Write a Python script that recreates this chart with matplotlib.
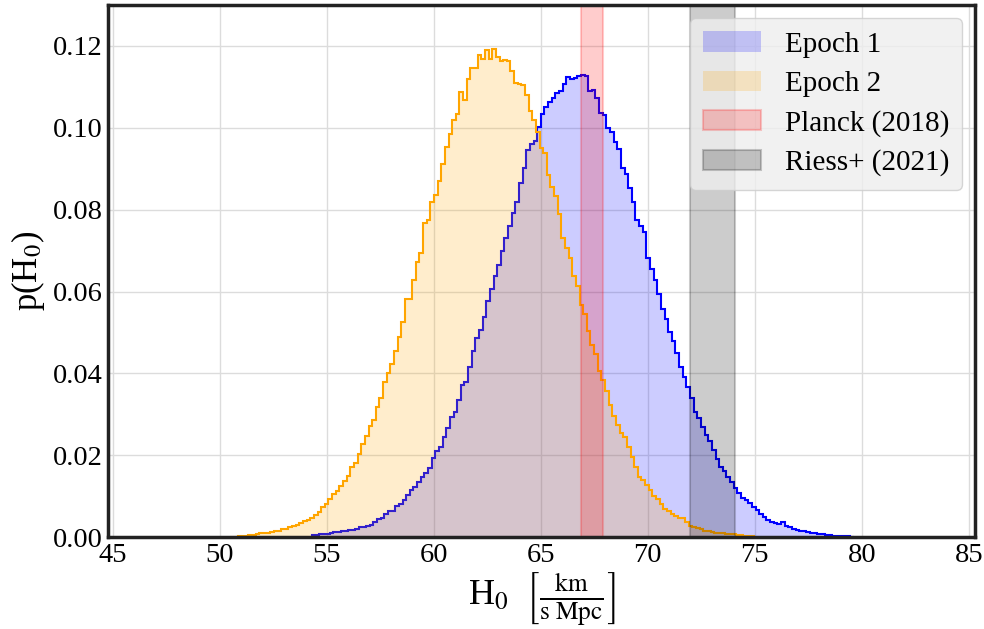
import numpy as np
import matplotlib
matplotlib.use("Agg")
import matplotlib.pyplot as plt

plt.rcParams['font.family'] = ['Liberation Serif', 'DejaVu Serif']
plt.rcParams['mathtext.fontset'] = 'stix'

# bin layout (start, width) for each epoch
bin_w = 0.17
start_1 = 54.3
start_2 = 50.5

# p(H0) per bin
epoch1 = [
    0.0005, 0.0006, 0.0007, 0.0008, 0.0008, 0.0010, 0.0013, 0.0013, 0.0015, 0.0016,
    0.0018, 0.0018, 0.0019, 0.0024, 0.0024, 0.0028, 0.0030, 0.0036, 0.0044, 0.0047,
    0.0057, 0.0063, 0.0063, 0.0077, 0.0080, 0.0091, 0.0104, 0.0115, 0.0122, 0.0134,
    0.0146, 0.0157, 0.0169, 0.0193, 0.0210, 0.0221, 0.0245, 0.0267, 0.0293, 0.0306,
    0.0335, 0.0371, 0.0378, 0.0416, 0.0455, 0.0486, 0.0507, 0.0537, 0.0576, 0.0606,
    0.0637, 0.0664, 0.0699, 0.0730, 0.0759, 0.0791, 0.0819, 0.0865, 0.0902, 0.0945,
    0.0961, 0.0967, 0.1002, 0.1033, 0.1050, 0.1062, 0.1072, 0.1084, 0.1091, 0.1107,
    0.1125, 0.1120, 0.1122, 0.1126, 0.1128, 0.1127, 0.1091, 0.1093, 0.1073, 0.1037,
    0.1031, 0.1000, 0.0990, 0.0965, 0.0949, 0.0902, 0.0888, 0.0854, 0.0819, 0.0774,
    0.0760, 0.0746, 0.0682, 0.0656, 0.0628, 0.0593, 0.0557, 0.0533, 0.0502, 0.0480,
    0.0449, 0.0416, 0.0392, 0.0366, 0.0340, 0.0305, 0.0290, 0.0270, 0.0250, 0.0235,
    0.0213, 0.0192, 0.0172, 0.0161, 0.0148, 0.0135, 0.0120, 0.0107, 0.0096, 0.0090,
    0.0083, 0.0074, 0.0066, 0.0056, 0.0050, 0.0043, 0.0037, 0.0035, 0.0032, 0.0036,
    0.0027, 0.0024, 0.0021, 0.0018, 0.0016, 0.0015, 0.0013, 0.0011, 0.0010, 0.0008,
    0.0007, 0.0006, 0.0005, 0.0004, 0.0003, 0.0003, 0.0002, 0.0002, 0.0001,
]

epoch2 = [
    0.0001, 0.0001, 0.0002, 0.0003, 0.0004, 0.0005, 0.0006, 0.0008, 0.0009, 0.0010,
    0.0011, 0.0012, 0.0014, 0.0016, 0.0019, 0.0020, 0.0024, 0.0027, 0.0030, 0.0034,
    0.0040, 0.0043, 0.0047, 0.0053, 0.0061, 0.0073, 0.0081, 0.0094, 0.0106, 0.0114,
    0.0124, 0.0138, 0.0150, 0.0172, 0.0180, 0.0203, 0.0228, 0.0246, 0.0272, 0.0287,
    0.0317, 0.0340, 0.0378, 0.0400, 0.0423, 0.0454, 0.0488, 0.0526, 0.0581, 0.0581,
    0.0628, 0.0672, 0.0695, 0.0767, 0.0776, 0.0820, 0.0837, 0.0870, 0.0912, 0.0954,
    0.0985, 0.1020, 0.1035, 0.1088, 0.1068, 0.1120, 0.1145, 0.1145, 0.1177, 0.1168,
    0.1189, 0.1169, 0.1193, 0.1174, 0.1163, 0.1165, 0.1163, 0.1140, 0.1109, 0.1107,
    0.1105, 0.1081, 0.1040, 0.1020, 0.0990, 0.0951, 0.0938, 0.0884, 0.0855, 0.0833,
    0.0789, 0.0732, 0.0707, 0.0683, 0.0638, 0.0614, 0.0566, 0.0545, 0.0504, 0.0470,
    0.0447, 0.0405, 0.0384, 0.0358, 0.0323, 0.0297, 0.0274, 0.0254, 0.0244, 0.0220,
    0.0197, 0.0171, 0.0146, 0.0140, 0.0128, 0.0115, 0.0101, 0.0093, 0.0080, 0.0069,
    0.0065, 0.0057, 0.0052, 0.0047, 0.0047, 0.0036, 0.0028, 0.0025, 0.0022, 0.0019,
    0.0016, 0.0014, 0.0012, 0.0011, 0.0010, 0.0009, 0.0008, 0.0007, 0.0007, 0.0006,
    0.0005, 0.0004, 0.0003, 0.0002,
]

planck = (66.9, 67.9)
riess = (72.0, 74.07)

edges1 = start_1 + bin_w * np.arange(len(epoch1) + 1)
edges2 = start_2 + bin_w * np.arange(len(epoch2) + 1)

fig = plt.figure(figsize=(9.84, 6.29), dpi=100)
ax = fig.add_axes([0.110, 0.146, 0.881, 0.846])

ax.grid(True, color='#dcdcdc', lw=1.0, zorder=0)
ax.set_axisbelow(True)

ax.stairs(epoch1, edges1, fill=True, color='blue', alpha=0.2, lw=0, label='Epoch 1')
ax.stairs(epoch1, edges1, color='blue', lw=1.5)
ax.stairs(epoch2, edges2, fill=True, color='orange', alpha=0.2, lw=0, label='Epoch 2')
ax.stairs(epoch2, edges2, color='orange', lw=1.5)

ax.axvspan(*planck, color='red', alpha=0.2, lw=1.5, label='Planck (2018)')
ax.axvspan(*riess, color='black', alpha=0.2, lw=1.5, label='Riess+ (2021)')

ax.set_xlim(44.8, 85.3)
ax.set_ylim(0, 0.13)
ax.set_xticks(np.arange(45, 86, 5))
ax.set_yticks(np.arange(0, 0.121, 0.02))
ax.yaxis.set_major_formatter(matplotlib.ticker.FormatStrFormatter('%.2f'))
ax.tick_params(labelsize=20.5, length=0, pad=4)

for s in ax.spines.values():
    s.set_linewidth(2.5)
    s.set_color('#222222')

ax.set_ylabel(r'p(H$_0$)', fontsize=25, labelpad=4)
ax.set_xlabel(r'H$_0$  $\left[\frac{\mathrm{km}}{\mathrm{s\ Mpc}}\right]$', fontsize=26, labelpad=2)

leg = ax.legend(loc='upper right', fontsize=21, frameon=True, fancybox=True,
                facecolor='#eeeeee', edgecolor='#cccccc', framealpha=0.8,
                handlelength=2.0, handleheight=0.7, handletextpad=0.8,
                borderpad=0.45, labelspacing=0.44, borderaxespad=0.45)

fig.savefig('out.png', dpi=100)
